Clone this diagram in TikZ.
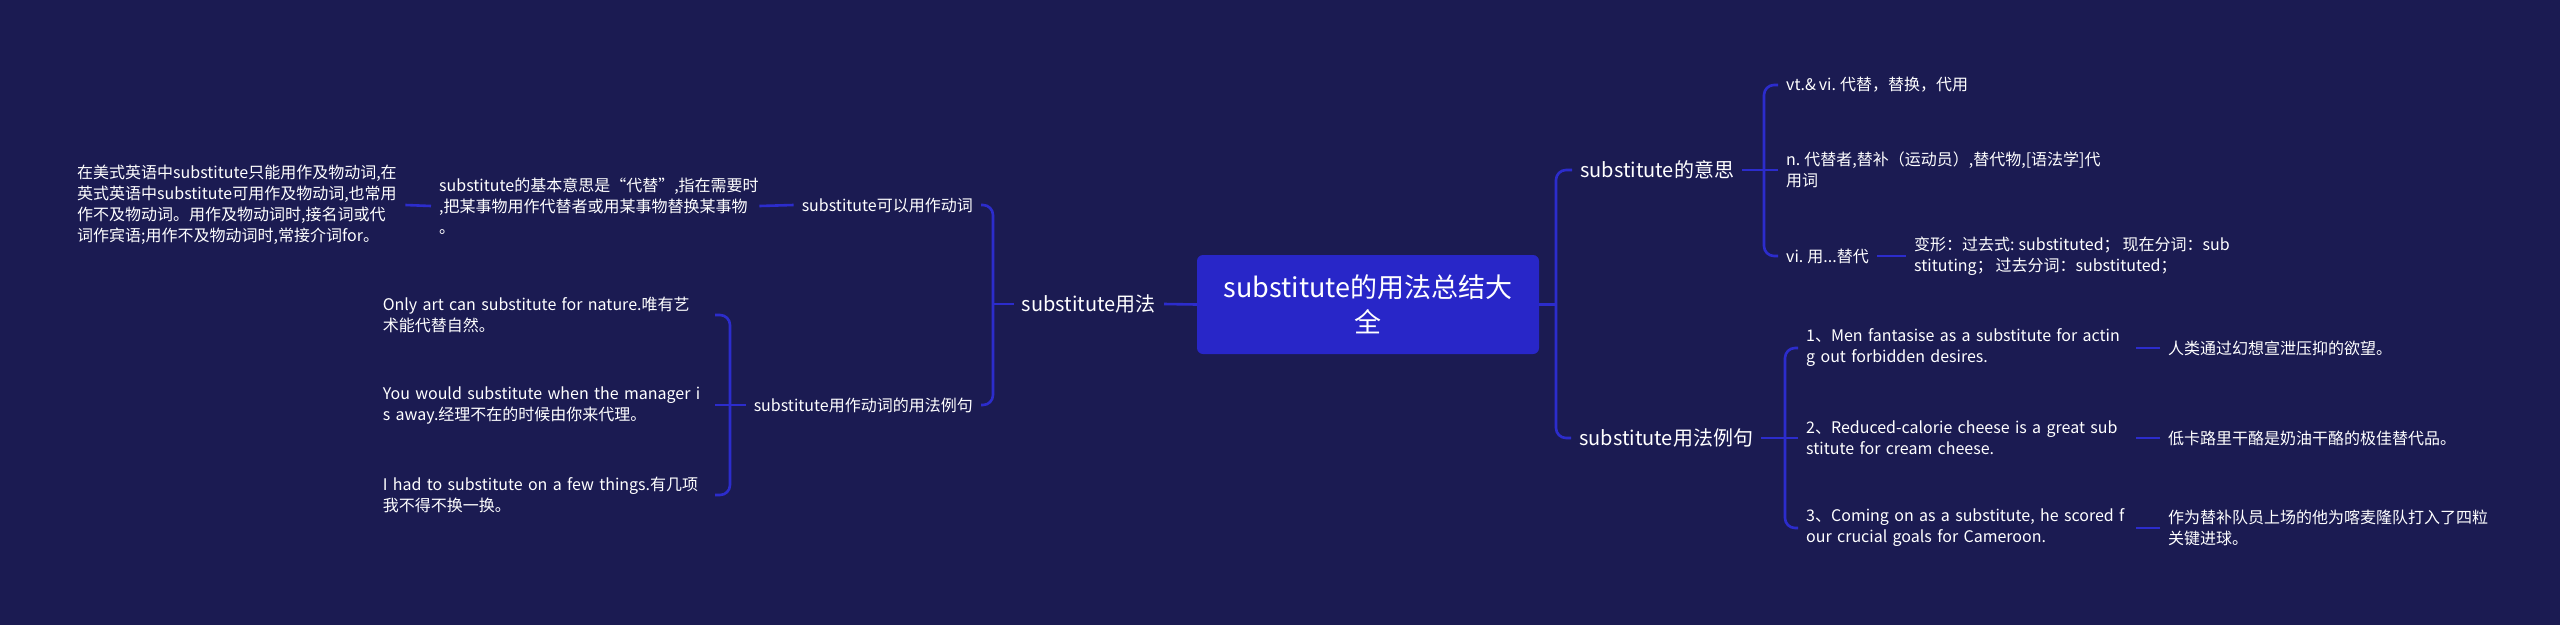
\documentclass[tikz,border=0pt]{standalone}
\usepackage{fontspec}
\setmainfont{Noto Sans CJK SC}[WordSpace=0.8]
\usepackage{xcolor}

\definecolor{bgnavy}{RGB}{27,27,82}
\definecolor{rootblue}{RGB}{40,38,200}
\definecolor{linkblue}{RGB}{44,44,204}

\tikzset{
  base/.style={text=white, inner xsep=8pt, inner ysep=3pt},
  leaf/.style={base, align=left, anchor=west, font=\fontsize{16}{21}\selectfont},
  branch/.style={base, font=\fontsize{16}{21}\selectfont},
  topic/.style={base, font=\fontsize{20}{26}\selectfont},
  rootbox/.style={base, fill=rootblue, rounded corners=6pt, align=center,
    minimum width=342pt, minimum height=99pt, font=\fontsize{27}{35}\selectfont},
  link/.style={draw=linkblue, line width=2.6pt, rounded corners=10pt}
}

\begin{document}
\begin{tikzpicture}[x=1pt, y=-1pt]
  \fill[bgnavy] (0,0) rectangle (2560,625);
  \useasboundingbox (0,0) rectangle (2560,625);

  \node[rootbox] (root) at (1368,304.5) {substitute的用法总结大\\全};

  % left half
  \node[topic, anchor=east] (usage) at (1164,304) {substitute用法};
  \node[branch, anchor=east] (verb) at (981,205) {substitute可以用作动词};
  \node[leaf, text width=312pt] (basic) at (431,206)
    {substitute的基本意思是“代替”,指在需要时\\,把某事物用作代替者或用某事物替换某事物\\。};
  \node[leaf, text width=320pt] (note) at (69,205)
    {在美式英语中substitute只能用作及物动词,在\\英式英语中substitute可用作及物动词,也常用\\作不及物动词。用作及物动词时,接名词或代\\词作宾语;用作不及物动词时,常接介词for。};
  \node[branch, anchor=east] (ex) at (981,405) {substitute用作动词的用法例句};
  \node[leaf, anchor=east, text width=324pt] (only) at (715,315)
    {Only art can substitute for nature.唯有艺\\术能代替自然。};
  \node[leaf, anchor=east, text width=324pt] (you) at (715,405)
    {You would substitute when the manager i\\s away.经理不在的时候由你来代理。};
  \node[leaf, anchor=east, text width=324pt] (ihad) at (715,495)
    {I had to substitute on a few things.有几项\\我不得不换一换。};

  % right half
  \node[topic, anchor=west] (mean) at (1572,170) {substitute的意思};
  \node[leaf] (vt) at (1778,85) {vt.\& vi. 代替，替换，代用};
  \node[leaf] (noun) at (1778,170) {n. 代替者,替补（运动员）,替代物,[语法学]代\\用词};
  \node[leaf] (vi) at (1778,256) {vi. 用...替代};
  \node[leaf] (forms) at (1906,256)
    {变形：过去式: substituted； 现在分词：sub\\stituting； 过去分词：substituted；};
  \node[topic, anchor=west] (usageR) at (1571,438) {substitute用法例句};
  \node[leaf, text width=322pt] (s1) at (1798,348)
    {1、Men fantasise as a substitute for actin\\g out forbidden desires.};
  \node[leaf, text width=322pt] (s2) at (1798,438)
    {2、Reduced-calorie cheese is a great sub\\stitute for cream cheese.};
  \node[leaf, text width=322pt] (s3) at (1798,528)
    {3、Coming on as a substitute, he scored f\\our crucial goals for Cameroon.};
  \node[leaf] (c1) at (2160,348) {人类通过幻想宣泄压抑的欲望。};
  \node[leaf] (c2) at (2160,438) {低卡路里干酪是奶油干酪的极佳替代品。};
  \node[leaf] (c3) at (2160,528) {作为替补队员上场的他为喀麦隆队打入了四粒\\关键进球。};

  % junctions
  \coordinate (lj) at (993,304);
  \coordinate (ej) at (730,405);
  \coordinate (rj) at (1556,304.5);
  \coordinate (mj) at (1764,170);
  \coordinate (uj) at (1785,438);

  % connectors
  \draw[link] (root.west) -- (usage.east);
  \draw[link] (usage.west) -- (lj);
  \draw[link] (verb.east) -| (lj) |- (ex.east);
  \draw[link] (verb.west) -- (basic.east);
  \draw[link] (basic.west) -- (note.east);
  \draw[link] (ex.west) -- (ej);
  \draw[link] (only.east) -| (ej) |- (ihad.east);
  \draw[link] (ej) -- (you.east);

  \draw[link] (root.east) -- (rj);
  \draw[link] (mean.west) -| (rj) |- (usageR.west);
  \draw[link] (mean.east) -- (mj);
  \draw[link] (vt.west) -| (mj) |- (vi.west);
  \draw[link] (mj) -- (noun.west);
  \draw[link] (vi.east) -- (forms.west);
  \draw[link] (usageR.east) -- (uj);
  \draw[link] (s1.west) -| (uj) |- (s3.west);
  \draw[link] (uj) -- (s2.west);
  \draw[link] (s1.east) -- (c1.west);
  \draw[link] (s2.east) -- (c2.west);
  \draw[link] (s3.east) -- (c3.west);
\end{tikzpicture}
\end{document}
